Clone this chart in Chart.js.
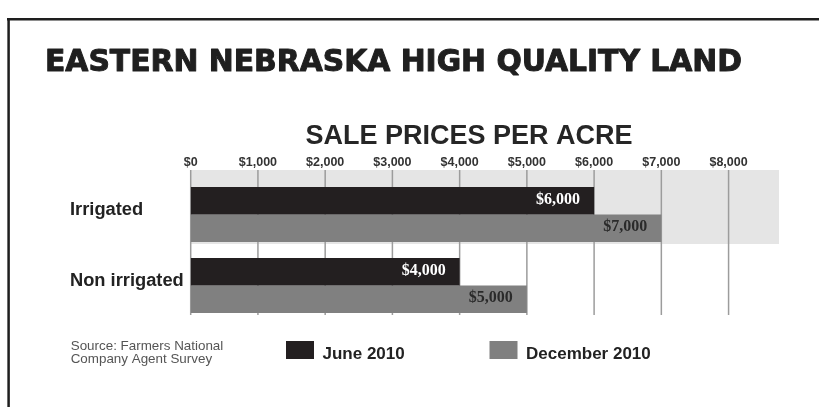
<!DOCTYPE html>
<html>
<head>
<meta charset="utf-8">
<script src="https://cdn.jsdelivr.net/npm/chart.js@4.4.1/dist/chart.umd.min.js"></script>
<style>
  html, body { margin: 0; padding: 0; background: #fff; }
  #wrap { width: 819px; height: 407px; }
</style>
</head>
<body>
<div id="wrap"><canvas id="landChart" width="819" height="407"></canvas></div>
<script>
const categories = ['Irrigated', 'Non irrigated'];
const june2010 = [6000, 4000];
const december2010 = [7000, 5000];
const seriesNames = ['June 2010', 'December 2010'];
const tickValues = [0, 1000, 2000, 3000, 4000, 5000, 6000, 7000, 8000];
const axisMax = 8750;

const dollars = (v) => '$' + v.toLocaleString('en-US');

// frame, titles, shaded band, grid, value labels, legend, source note
const decorPlugin = {
    id: 'decor',
    beforeDraw(chart) {
        const ctx = chart.ctx;
        ctx.save();
        ctx.fillStyle = '#fff';
        ctx.fillRect(0, 0, chart.width, chart.height);
        ctx.strokeStyle = '#1e1e1e';
        ctx.lineWidth = 2.5;
        ctx.beginPath();
        ctx.moveTo(7, 19.3);
        ctx.lineTo(chart.width, 19.3);
        ctx.moveTo(8.6, 18);
        ctx.lineTo(8.6, chart.height);
        ctx.stroke();

        // heavy headline: fill plus a thin stroke to thicken the strokes
        ctx.fillStyle = '#1f1f1f';
        ctx.strokeStyle = '#1f1f1f';
        ctx.lineWidth = 1;
        ctx.lineJoin = 'round';
        ctx.textBaseline = 'alphabetic';
        ctx.textAlign = 'left';
        ctx.font = "bold 30px 'DejaVu Sans'";
        ctx.fillText('EASTERN NEBRASKA HIGH QUALITY LAND', 45, 71, 697);
        ctx.strokeText('EASTERN NEBRASKA HIGH QUALITY LAND', 45, 71, 697);

        ctx.textAlign = 'center';
        ctx.font = "bold 27px 'Liberation Sans'";
        ctx.fillStyle = '#262626';
        ctx.fillText('SALE PRICES PER ACRE', 469, 144);
        ctx.restore();
    },
    beforeDatasetsDraw(chart) {
        const { ctx, scales: { x, y } } = chart;
        const catH = (y.bottom - y.top) / categories.length;
        ctx.save();
        ctx.fillStyle = '#e5e5e5';
        ctx.fillRect(x.left, y.top - 9, x.right - x.left, catH + 3);
        ctx.strokeStyle = '#9c9c9c';
        ctx.lineWidth = 1.5;
        ctx.beginPath();
        tickValues.forEach(v => {
            const px = x.getPixelForValue(v);
            ctx.moveTo(px, y.top - 9);
            ctx.lineTo(px, y.bottom - 6);
        });
        ctx.stroke();
        ctx.restore();
    },
    afterDatasetsDraw(chart) {
        const ctx = chart.ctx;
        const textColors = ['#ffffff', '#2a2a2a'];
        ctx.save();
        ctx.font = "bold 16px 'Liberation Serif'";
        ctx.textAlign = 'right';
        ctx.textBaseline = 'middle';
        chart.data.datasets.forEach((ds, di) => {
            chart.getDatasetMeta(di).data.forEach((bar, i) => {
                ctx.fillStyle = textColors[di];
                ctx.fillText(dollars(ds.data[i]), bar.x - 14, bar.y - 1);
            });
        });
        ctx.restore();
    },
    afterDraw(chart) {
        const ctx = chart.ctx;
        ctx.save();
        const legendX = [286, 489.5];
        chart.data.datasets.forEach((ds, di) => {
            ctx.fillStyle = ds.backgroundColor;
            ctx.fillRect(legendX[di], 341, 28, 18);
            ctx.fillStyle = '#222';
            ctx.font = "bold 17px 'Liberation Sans'";
            ctx.textAlign = 'left';
            ctx.textBaseline = 'alphabetic';
            ctx.fillText(ds.label, legendX[di] + 36.5, 359);
        });
        ctx.fillStyle = '#555';
        ctx.font = "13.4px 'Liberation Sans'";
        ctx.fillText('Source: Farmers National', 70.7, 350);
        ctx.fillText('Company Agent Survey', 70.7, 362.5);
        ctx.restore();
    }
};

new Chart(document.getElementById('landChart'), {
    type: 'bar',
    data: {
        labels: categories,
        datasets: [
            { label: seriesNames[0], data: june2010, backgroundColor: '#231f20', borderWidth: 0 },
            { label: seriesNames[1], data: december2010, backgroundColor: '#808080', borderWidth: 0 }
        ]
    },
    options: {
        indexAxis: 'y',
        responsive: false,
        animation: false,
        devicePixelRatio: 1,
        layout: { padding: { top: 149, left: 70, right: 40, bottom: 86 } },
        datasets: { bar: { categoryPercentage: 0.775, barPercentage: 1 } },
        plugins: {
            legend: { display: false },
            tooltip: { enabled: false }
        },
        scales: {
            x: {
                position: 'top',
                min: 0,
                max: axisMax,
                afterBuildTicks: (scale) => { scale.ticks = tickValues.map(v => ({ value: v })); },
                afterFit: (scale) => { scale.height = 30; },
                grid: { display: false, drawTicks: false },
                border: { display: false },
                ticks: {
                    padding: 8.5,
                    color: '#333',
                    font: { family: "'Liberation Sans'", size: 12.5, weight: 'bold' },
                    callback: (v) => dollars(v)
                }
            },
            y: {
                afterFit: (scale) => { scale.width = 120.7; },
                grid: { display: false, drawTicks: false },
                border: { display: false },
                ticks: {
                    crossAlign: 'far',
                    labelOffset: -5,
                    color: '#222',
                    font: { family: "'Liberation Sans'", size: 18.3, weight: 'bold' }
                }
            }
        }
    },
    plugins: [decorPlugin]
});
</script>
</body>
</html>
